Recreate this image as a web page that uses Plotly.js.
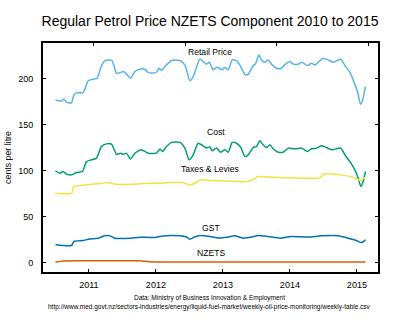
<!DOCTYPE html>
<html>
<head>
<meta charset="utf-8">
<script src="https://cdn.plot.ly/plotly-3.0.1.min.js"></script>
<style>html,body{margin:0;padding:0;background:#fff;}#chart{width:400px;height:326px;}</style>
</head>
<body>
<div id="chart"></div>
<script>
// Decimal-year positions and values (cents per litre)
const retailX = [2010.501,2010.591,2010.627,2010.666,2010.740,2010.776,2010.815,2010.915,2010.990,2011.064,2011.124,2011.188,2011.239,2011.337,2011.373,2011.412,2011.472,2011.512,2011.552,2011.621,2011.687,2011.761,2011.836,2011.885,2012.000,2012.049,2012.084,2012.149,2012.233,2012.358,2012.433,2012.507,2012.557,2012.657,2012.706,2012.755,2012.796,2012.855,2012.919,2012.979,2013.030,2013.079,2013.139,2013.203,2013.254,2013.328,2013.378,2013.452,2013.487,2013.537,2013.576,2013.627,2013.676,2013.725,2013.800,2013.875,2013.934,2014.000,2014.049,2014.124,2014.173,2014.263,2014.322,2014.373,2014.433,2014.497,2014.572,2014.646,2014.696,2014.761,2014.821,2014.896,2014.970,2015.009,2015.054,2015.079,2015.128];
const retail = [176.8,176,178,174.7,174,182.6,184.8,185,198,199.6,200.7,214.5,219.6,220.3,214.5,206,207,208,206,200.7,208,210.5,210.5,206.8,206.8,211.6,209.3,214.5,220,220,215,198,202.5,221.7,218.8,216,218,209.8,213,209.8,212.3,209.8,220.6,219.6,215,205,205,214.5,216.3,226,220.6,218,220.6,216,211.6,211.6,216,218.8,216,216,218,214.5,217,215,218.8,222.5,220.6,218,219.6,221.4,214.5,207,194,186,172.5,175.3,191.6];

const costX = [2010.501,2010.567,2010.616,2010.666,2010.740,2010.815,2010.904,2010.964,2011.039,2011.113,2011.188,2011.263,2011.337,2011.412,2011.472,2011.512,2011.561,2011.621,2011.687,2011.785,2011.885,2012.004,2012.060,2012.099,2012.158,2012.233,2012.358,2012.433,2012.497,2012.557,2012.631,2012.696,2012.751,2012.806,2012.840,2012.904,2012.970,2013.030,2013.079,2013.139,2013.203,2013.269,2013.328,2013.378,2013.452,2013.501,2013.552,2013.601,2013.651,2013.701,2013.751,2013.825,2013.900,2013.975,2014.049,2014.099,2014.173,2014.263,2014.322,2014.397,2014.472,2014.546,2014.631,2014.696,2014.761,2014.821,2014.896,2014.970,2015.019,2015.060,2015.094,2015.128];
const cost = [100,97.5,99.3,96.4,95.6,98.2,99.3,110,112,113.8,126.4,129.3,129,118,119.2,118,119,113,119.2,122.8,119.2,119.2,123.6,121,126.4,131,131,124.7,112,117.4,130,127.5,125,126,121.7,124.7,120.3,122.8,120.3,131,130,125.3,115.5,117.4,125.3,126.4,132.6,128.3,125.3,128.3,124,120.3,120.3,124.7,124,124,124.7,121,124,124.7,127.2,125.3,122.8,124,124.7,117.4,110,101,92,83,88.4,99.3];

const taxesX = [2010.497,2010.746,2010.770,2010.970,2011.169,2011.269,2011.393,2011.666,2011.866,2012.064,2012.263,2012.388,2012.512,2012.636,2012.661,2012.910,2013.158,2013.333,2013.482,2013.507,2013.904,2014.452,2014.501,2014.751,2014.949,2015.049,2015.124];
const taxes = [75.7,75.7,82.6,84.8,86.2,87.3,85.5,85.5,86.6,86.6,87.7,87.3,84.8,88.7,90,89.3,88.6,88,91.5,93.5,92.6,92.6,96.5,95.6,92.9,89.6,93];

const gstX = [2010.501,2010.740,2010.776,2010.915,2010.990,2011.139,2011.239,2011.313,2011.388,2011.616,2011.761,2011.960,2012.060,2012.233,2012.358,2012.457,2012.507,2012.576,2012.657,2012.806,2012.930,2013.079,2013.179,2013.303,2013.427,2013.527,2013.676,2013.851,2014.024,2014.273,2014.472,2014.721,2014.870,2014.994,2015.067,2015.128];
const gst = [19.6,18.8,23.2,24.2,25.7,26.8,29.3,29.3,26.8,26.8,27.9,27.5,28.6,29.7,29.3,28,25.7,28,29.7,28.6,27,28,29.3,26.8,28,29.7,28.6,26.8,28.6,28,29.3,29.3,26.8,24.2,22,25];

const nzetsX = [2010.501,2010.62,2011.0,2011.76,2011.9,2013.5,2015.128];
const nzets = [0.8,2.0,2.2,2.2,1.2,1.0,0.9];

const seriesNames = ['Retail Price','Cost','Taxes & Levies','GST','NZETS'];
const seriesColors = ['#56B4E9','#009E73','#F0E442','#0072B2','#D55E00'];
const seriesX = [retailX,costX,taxesX,gstX,nzetsX];
const seriesY = [retail,cost,taxes,gst,nzets];

// Label positions (data coords)
const labelX = [2012.81,2012.893,2012.81,2012.825,2012.825];
const labelY = [229.3,142.4,102.2,37.5,10.3];

const yearTicks = [2011,2012,2013,2014,2015];
const yearLabels = ['2011','2012','2013','2014','2015'];
const topTicks = [2011.068,2012.437,2013.805,2015.175];
const yTicks = [0,50,100,150,200];
const yLabels = ['0','50','100','150','200'];

const FONT = 'Liberation Sans, Arial, Helvetica, sans-serif';

const traces = seriesNames.map((n,i)=>({
  type:'scatter', mode:'lines', name:n,
  x: seriesX[i], y: seriesY[i],
  line:{color: seriesColors[i], width:1.5, shape:'spline', smoothing:0.6},
  hoverinfo:'skip'
}));
// carrier trace (no visible mark) for the top tick axis
traces.push({type:'scatter', mode:'lines', x:[topTicks[0]], y:[retail[0]], xaxis:'x2', yaxis:'y', opacity:0, showlegend:false, hoverinfo:'skip'});

const annotations = seriesNames.map((n,i)=>({
  text:n, x:labelX[i], y:labelY[i], xref:'x', yref:'y', showarrow:false,
  font:{family:FONT, size:8.6, color:'#000'}, xanchor:'center', yanchor:'middle'
}));
annotations.push({text:'Data: Ministry of Business Innovation &amp; Employment', xref:'paper', yref:'paper', x:0.4985, y:-0.1135, showarrow:false, xanchor:'center', yanchor:'middle', font:{family:FONT,size:6.5,color:'#000'}});
annotations.push({text:'http://www.med.govt.nz/sectors-industries/energy/liquid-fuel-market/weekly-oil-price-monitoring/weekly-table.csv', xref:'paper', yref:'paper', x:0.4985, y:-0.1515, showarrow:false, xanchor:'center', yanchor:'middle', font:{family:FONT,size:6.5,color:'#000'}});

const layout = {
  width:400, height:326,
  margin:{l:43, r:22, t:43, b:54, pad:0},
  paper_bgcolor:'#fff', plot_bgcolor:'#fff',
  showlegend:false,
  title:{text:'Regular Petrol Price NZETS Component 2010 to 2015', font:{family:FONT, size:14, color:'#000'}, x:0.525, xanchor:'center', y:1-21/326, yanchor:'middle', yref:'container'},
  xaxis:{range:[2010.315,2015.315], tickmode:'array', tickvals:yearTicks, ticktext:yearLabels, ticks:'inside', ticklen:3, tickwidth:1, tickcolor:'#000',
    showline:true, linecolor:'#000', linewidth:2, mirror:true, showgrid:false, zeroline:false,
    tickfont:{family:FONT, size:9, color:'#000'}, ticklabelstandoff:3},
  xaxis2:{range:[2010.315,2015.315], overlaying:'x', anchor:'y', side:'top', tickmode:'array', tickvals:topTicks, ticks:'inside', ticklen:3, tickwidth:1, tickcolor:'#000',
    showticklabels:false, showline:false, showgrid:false, zeroline:false},
  yaxis:{range:[-10,239], tickmode:'array', tickvals:yTicks, ticktext:yLabels, ticks:'inside', ticklen:3, tickwidth:1, tickcolor:'#000',
    showline:true, linecolor:'#000', linewidth:2, mirror:'ticks', showgrid:false, zeroline:false,
    tickfont:{family:FONT, size:9, color:'#000'}, ticklabelstandoff:6,
    title:{text:'cents per litre', font:{family:FONT, size:8.8, color:'#000'}, standoff:5}},
  annotations: annotations
};

Plotly.newPlot('chart', traces, layout, {displayModeBar:false});
</script>
</body>
</html>
